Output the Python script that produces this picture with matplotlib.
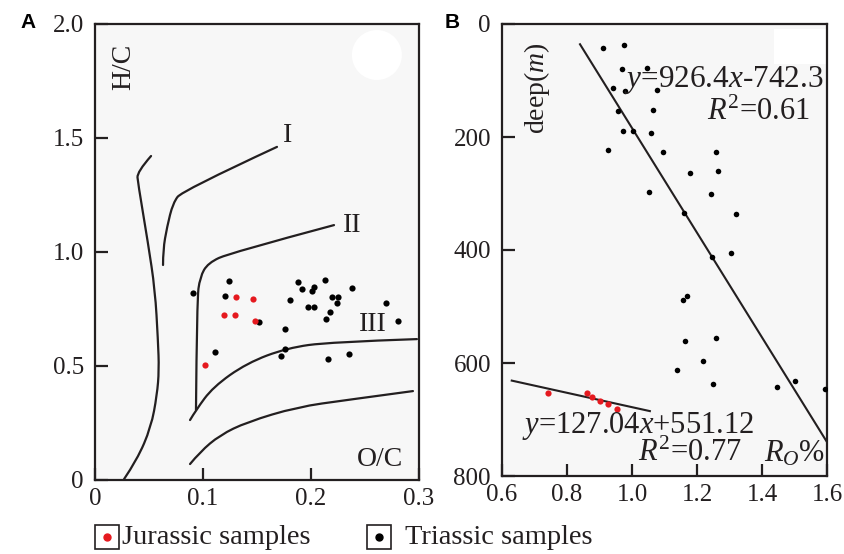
import matplotlib
matplotlib.use("Agg")
import matplotlib.pyplot as plt
from matplotlib.patches import Ellipse, Rectangle, PathPatch
from matplotlib.path import Path
import numpy as np

plt.rcParams['font.family'] = ['Liberation Serif', 'DejaVu Serif']
plt.rcParams['mathtext.fontset'] = 'custom'
plt.rcParams['mathtext.rm'] = 'Liberation Serif'
plt.rcParams['mathtext.it'] = 'Liberation Serif:italic'

# ---------------- Panel A data (van Krevelen) ----------------
a_tri_oc = [0.124, 0.091, 0.120, 0.188, 0.192, 0.201, 0.203, 0.213, 0.238, 0.181,
            0.219, 0.225, 0.224, 0.197, 0.203, 0.218, 0.214, 0.269, 0.152, 0.281,
            0.176, 0.111, 0.176, 0.172, 0.216, 0.235]
a_tri_hc = [0.873, 0.820, 0.807, 0.868, 0.838, 0.829, 0.846, 0.877, 0.842, 0.789,
            0.803, 0.803, 0.776, 0.759, 0.759, 0.737, 0.706, 0.776, 0.693, 0.697,
            0.662, 0.561, 0.575, 0.544, 0.531, 0.553]
a_jur_oc = [0.131, 0.146, 0.119, 0.130, 0.148, 0.102]
a_jur_hc = [0.803, 0.794, 0.724, 0.724, 0.697, 0.504]

# evolution curves (guide points)
left_x = [0.0519, 0.0389, 0.0398, 0.0491, 0.0556, 0.0583, 0.0593, 0.0574, 0.0519, 0.0389, 0.0269]
left_y = [1.421, 1.351, 1.303, 1.039, 0.833, 0.614, 0.482, 0.373, 0.232, 0.088, 0.004]
typeI_x = [0.1685, 0.0806, 0.0722, 0.0667, 0.0630, 0.0630]
typeI_y = [1.461, 1.268, 1.215, 1.110, 1.009, 0.943]
typeII_x = [0.2213, 0.1250, 0.1046, 0.0972, 0.0944, 0.0935]
typeII_y = [1.118, 0.996, 0.952, 0.890, 0.789, 0.307]
typeIII_x = [0.0880, 0.0935, 0.1093, 0.1407, 0.1778, 0.2176, 0.2981]
typeIII_y = [0.263, 0.307, 0.408, 0.513, 0.579, 0.605, 0.618]
lower_x = [0.0880, 0.0972, 0.1157, 0.1407, 0.1870, 0.2333, 0.2944]
lower_y = [0.070, 0.123, 0.197, 0.254, 0.320, 0.351, 0.390]

a_xticks = [0, 0.1, 0.2, 0.3]
a_xticklabels = ['0', '0.1', '0.2', '0.3']
a_yticks = [0, 0.5, 1.0, 1.5, 2.0]
a_yticklabels = ['0', '0.5', '1.0', '1.5', '2.0']

# ---------------- Panel B data (Ro vs depth) ----------------
b_tri_ro = [0.911, 0.975, 0.969, 1.046, 0.942, 0.978, 1.077, 0.957, 1.065, 0.972,
            1.003, 1.058, 0.926, 1.095, 1.258, 1.178, 1.265, 1.052, 1.243, 1.160,
            1.320, 1.246, 1.305, 1.157, 1.169, 1.163, 1.258, 1.218, 1.138, 1.249,
            1.446, 1.502, 1.594]
b_tri_dep = [42, 37, 80, 78, 113, 119, 117, 154, 152, 189,
             189, 193, 223, 227, 227, 264, 260, 297, 301, 335,
             336, 412, 405, 488, 481, 561, 556, 596, 612, 637,
             642, 632, 646]
b_jur_ro = [0.742, 0.862, 0.877, 0.902, 0.926, 0.954]
b_jur_dep = [653, 653, 660, 667, 673, 681]

tri_fit = (926.4, -742.3)
tri_fit_range = (0.84, 1.6)
jur_fit = (127.04, 551.12)
jur_fit_range = (0.63, 1.055)

b_xticks = [0.6, 0.8, 1.0, 1.2, 1.4, 1.6]
b_xticklabels = ['0.6', '0.8', '1.0', '1.2', '1.4', '1.6']
b_yticks = [0, 200, 400, 600, 800]

RED = '#e5191f'
INK = '#231f20'
FACE = '#f7f7f7'


def smooth_path(xs, ys):
    """Quadratic-Bezier path using guide points as control points."""
    pts = list(zip(xs, ys))
    verts = [pts[0]]
    codes = [Path.MOVETO]
    for i in range(1, len(pts) - 1):
        mid = ((pts[i][0] + pts[i + 1][0]) / 2, (pts[i][1] + pts[i + 1][1]) / 2)
        end = mid if i < len(pts) - 2 else pts[-1]
        verts += [pts[i], end]
        codes += [Path.CURVE3, Path.CURVE3]
    if len(pts) == 2:
        verts.append(pts[1])
        codes.append(Path.LINETO)
    return Path(verts, codes)


fig = plt.figure(figsize=(8.44, 5.54), dpi=100)
fig.patch.set_facecolor('white')

axA = fig.add_axes([95/844, 74/554, 324/844, 456/554])
axB = fig.add_axes([502/844, 78/554, 325/844, 452/554])

for ax in (axA, axB):
    ax.set_facecolor(FACE)
    for s in ax.spines.values():
        s.set_linewidth(1.6)
        s.set_color(INK)
    ax.tick_params(direction='in', length=9, width=1.6, color=INK,
                   labelsize=18, labelcolor=INK)

# ---- Panel A ----
axA.set_xlim(0, 0.3)
axA.set_ylim(0, 2.0)
axA.set_xticks(a_xticks)
axA.set_xticklabels(a_xticklabels)
axA.set_yticks(a_yticks)
axA.set_yticklabels(a_yticklabels)
axA.tick_params(axis='x', pad=6)
axA.tick_params(axis='y', pad=8)
axA.add_patch(Ellipse((0.261, 1.864), 0.0463, 0.219, facecolor='white', edgecolor='none'))
for xs, ys in [(left_x, left_y), (typeI_x, typeI_y), (typeII_x, typeII_y),
               (typeIII_x, typeIII_y), (lower_x, lower_y)]:
    axA.add_patch(PathPatch(smooth_path(xs, ys), facecolor='none', edgecolor=INK,
                            lw=1.6, capstyle='round', joinstyle='round'))
axA.scatter(a_tri_oc, a_tri_hc, s=20, color='black', zorder=3, linewidths=0)
axA.scatter(a_jur_oc, a_jur_hc, s=20, color=RED, zorder=3, linewidths=0)
axA.text(0.178, 1.513, 'I', fontsize=20, color=INK, ha='center', va='center')
axA.text(0.238, 1.118, 'II', fontsize=20, color=INK, ha='center', va='center')
axA.text(0.257, 0.680, 'III', fontsize=20, color=INK, ha='center', va='center')
axA.text(0.264, 0.088, 'O/C', fontsize=20, color=INK, ha='center', va='center')
axA.text(0.027, 1.81, 'H/C', fontsize=20, color=INK, ha='center', va='center', rotation=90)

# ---- Panel B ----
axB.set_xlim(0.6, 1.6)
axB.set_ylim(800, 0)
axB.set_xticks(b_xticks)
axB.set_xticklabels(b_xticklabels)
axB.set_yticks(b_yticks)
axB.tick_params(axis='x', pad=6)
axB.tick_params(axis='y', pad=8)
axB.add_patch(Rectangle((1.437, 9), 0.163, 62, facecolor='white', edgecolor='none'))
xt = np.array(tri_fit_range)
axB.plot(xt, tri_fit[0]*xt + tri_fit[1], color=INK, lw=1.5)
xj = np.array(jur_fit_range)
axB.plot(xj, jur_fit[0]*xj + jur_fit[1], color=INK, lw=1.5)
axB.scatter(b_tri_ro, b_tri_dep, s=16, color='black', zorder=3, linewidths=0)
axB.scatter(b_jur_ro, b_jur_dep, s=20, color=RED, zorder=3, linewidths=0)
axB.text(1.282, 99, '$y$=926.4$x$-742.3', fontsize=22.5, color=INK, ha='center', va='center',
         clip_on=True)
axB.text(1.388, 156, '$R^2$=0.61', fontsize=22, color=INK, ha='center', va='center')
axB.text(1.02, 711, '$y$=127.04$x$+551.12', fontsize=22, color=INK, ha='center', va='center')
axB.text(1.178, 760, '$R^2$=0.77', fontsize=22, color=INK, ha='center', va='center')
axB.text(1.50, 760, '$R_O$%', fontsize=22, color=INK, ha='center', va='center')
axB.text(0.708, 113, 'deep($m$)', fontsize=20, color=INK, ha='center', va='center', rotation=90)

# panel letters
fig.text(28/844, 1 - 22/554, 'A', fontsize=15, fontweight='bold', family='Liberation Sans',
         ha='center', va='center', color='black')
fig.text(452/844, 1 - 22/554, 'B', fontsize=15, fontweight='bold', family='Liberation Sans',
         ha='center', va='center', color='black')

# legend (manual)
def legend_item(x0, color, label, tx):
    yc = 1 - 537/554
    fig.patches.append(Rectangle((x0/844, yc - 12/554), 24/844, 24/554,
                                 transform=fig.transFigure, facecolor='white',
                                 edgecolor=INK, lw=1.2))
    fig.lines.append(plt.Line2D([(x0 + 12)/844], [yc], transform=fig.transFigure,
                                marker='o', markersize=5, color=color, lw=0))
    fig.text(tx/844, yc, label, fontsize=20.5, color=INK, ha='left', va='center')

legend_item(95, RED, 'Jurassic samples', 122)
legend_item(367, 'black', 'Triassic samples', 405)

fig.savefig('out.png', dpi=100, facecolor='white')
